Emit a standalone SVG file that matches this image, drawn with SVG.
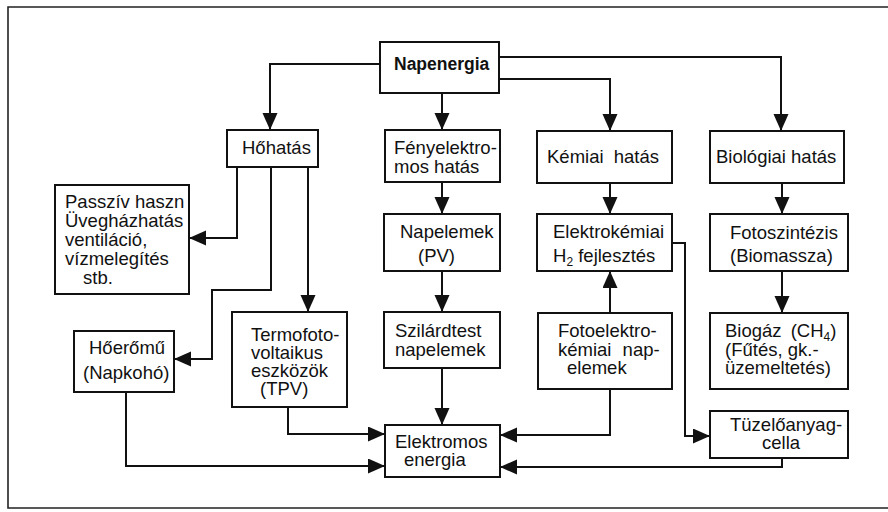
<svg xmlns="http://www.w3.org/2000/svg" width="888" height="512" viewBox="0 0 888 512">
  <style>
    .box { fill: #fff; stroke: #111; stroke-width: 2; }
    .lbl { font-family: "Liberation Sans", Arial, sans-serif; font-size: 18.5px; fill: #111; }
    .bold { font-weight: bold; font-size: 17.5px; }
    .wire { fill: none; stroke: #111; stroke-width: 2; marker-end: url(#head); }
    .frame { fill: none; stroke: #222; stroke-width: 1.6; }
  </style>
  <defs>
    <marker id="head" markerUnits="userSpaceOnUse" markerWidth="18" markerHeight="16" refX="17" refY="7.5" orient="auto">
      <path d="M0,0 L17,7.5 L0,15 z" fill="#111"/>
    </marker>
  </defs>

  <rect width="888" height="512" fill="#fff"/>
  <path class="frame" d="M888,7 H8 V508 H888"/>

  <!-- connectors -->
  <g id="connectors">
    <path class="wire" d="M380,64 H270 V130"/>
    <path class="wire" d="M442,93 V130"/>
    <path class="wire" d="M499,79 H610 V131"/>
    <path class="wire" d="M499,57 H781 V131"/>
    <path class="wire" d="M237,167 V238 H189"/>
    <path class="wire" d="M271,167 V290 H212 V359 H174"/>
    <path class="wire" d="M308,167 V312"/>
    <path class="wire" d="M442,182 V214"/>
    <path class="wire" d="M442,271 V312"/>
    <path class="wire" d="M442,368 V425"/>
    <path class="wire" d="M610,183 V214"/>
    <path class="wire" d="M610,313 V271"/>
    <path class="wire" d="M672,243 H685 V436 H710"/>
    <path class="wire" d="M610,389 V435 H500"/>
    <path class="wire" d="M782,458 V467 H500"/>
    <path class="wire" d="M782,183 V214"/>
    <path class="wire" d="M782,271 V313"/>
    <path class="wire" d="M288,407 V434 H385"/>
    <path class="wire" d="M126,392 V466 H385"/>
  </g>

  <g id="napenergia">
    <rect class="box" x="380" y="42" width="119" height="51"/>
    <text class="lbl bold" x="394" y="70">Napenergia</text>
  </g>
  <g id="hohatas">
    <rect class="box" x="227" y="130" width="91" height="37"/>
    <text class="lbl" x="242" y="154">Hőhatás</text>
  </g>
  <g id="fenyelektromos">
    <rect class="box" x="385" y="130" width="115" height="52"/>
    <text class="lbl" x="394" y="154">Fényelektro-</text>
    <text class="lbl" x="394" y="173">mos hatás</text>
  </g>
  <g id="kemiai">
    <rect class="box" x="537" y="131" width="135" height="52"/>
    <text class="lbl" x="547" y="163" word-spacing="5">Kémiai hatás</text>
  </g>
  <g id="biologiai">
    <rect class="box" x="710" y="131" width="134" height="52"/>
    <text class="lbl" x="716" y="163">Biológiai hatás</text>
  </g>
  <g id="passziv">
    <rect class="box" x="55" y="185" width="134" height="109"/>
    <text class="lbl" x="65" y="208">Passzív haszn</text>
    <text class="lbl" x="65" y="227">Üvegházhatás</text>
    <text class="lbl" x="65" y="246">ventiláció,</text>
    <text class="lbl" x="65" y="265">vízmelegítés</text>
    <text class="lbl" x="83" y="284">stb.</text>
  </g>
  <g id="napelemek">
    <rect class="box" x="384" y="214" width="116" height="57"/>
    <text class="lbl" x="400" y="238">Napelemek</text>
    <text class="lbl" x="418" y="262">(PV)</text>
  </g>
  <g id="elektrokemiai">
    <rect class="box" x="537" y="214" width="135" height="57"/>
    <text class="lbl" x="553" y="238">Elektrokémiai</text>
    <text class="lbl" x="553" y="262">H<tspan font-size="12" dy="4">2</tspan><tspan dy="-4"> fejlesztés</tspan></text>
  </g>
  <g id="fotoszintezis">
    <rect class="box" x="710" y="214" width="138" height="57"/>
    <text class="lbl" x="730" y="239">Fotoszintézis</text>
    <text class="lbl" x="730" y="262">(Biomassza)</text>
  </g>
  <g id="hoeromu">
    <rect class="box" x="74" y="331" width="100" height="61"/>
    <text class="lbl" x="89" y="354">Hőerőmű</text>
    <text class="lbl" x="83" y="379">(Napkohó)</text>
  </g>
  <g id="tpv">
    <rect class="box" x="232" y="312" width="115" height="95"/>
    <text class="lbl" x="251" y="341">Termofoto-</text>
    <text class="lbl" x="251" y="359">voltaikus</text>
    <text class="lbl" x="251" y="377">eszközök</text>
    <text class="lbl" x="260" y="395">(TPV)</text>
  </g>
  <g id="szilardtest">
    <rect class="box" x="384" y="312" width="116" height="56"/>
    <text class="lbl" x="395" y="337">Szilárdtest</text>
    <text class="lbl" x="395" y="356">napelemek</text>
  </g>
  <g id="fotoelektrokemiai">
    <rect class="box" x="538" y="313" width="134" height="76"/>
    <text class="lbl" x="558" y="337">Fotoelektro-</text>
    <text class="lbl" x="558" y="356" word-spacing="6">kémiai nap-</text>
    <text class="lbl" x="567" y="374">elemek</text>
  </g>
  <g id="biogaz">
    <rect class="box" x="710" y="313" width="138" height="76"/>
    <text class="lbl" x="725" y="337" word-spacing="4">Biogáz (CH<tspan font-size="12" dy="4">4</tspan><tspan dy="-4">)</tspan></text>
    <text class="lbl" x="725" y="356">(Fűtés, gk.-</text>
    <text class="lbl" x="725" y="374">üzemeltetés)</text>
  </g>
  <g id="elektromos">
    <rect class="box" x="385" y="425" width="115" height="52"/>
    <text class="lbl" x="395" y="448">Elektromos</text>
    <text class="lbl" x="404" y="466">energia</text>
  </g>
  <g id="tuzeloanyagcella">
    <rect class="box" x="710" y="411" width="138" height="47"/>
    <text class="lbl" x="730" y="431">Tüzelőanyag-</text>
    <text class="lbl" x="762" y="449">cella</text>
  </g>
</svg>
